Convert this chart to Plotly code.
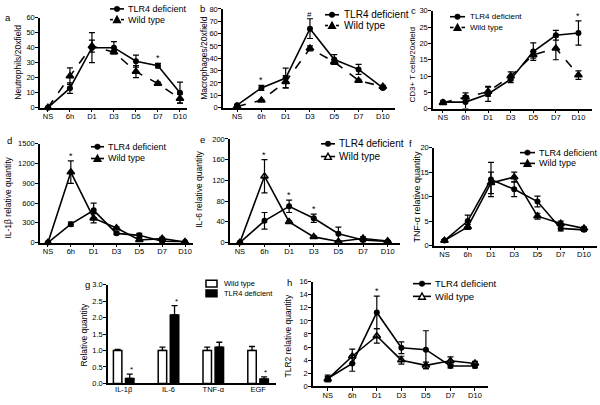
import plotly.graph_objects as go

FONT = "Liberation Sans, Arial, sans-serif"
W, H = 600, 405

# ---------------- data ----------------
time_labels = ["NS", "6h", "D1", "D3", "D5", "D7", "D10"]
time_pos = [0, 1, 2, 3, 4, 5, 6]

# a: Neutrophils/20xfield
a_tlr4 = [0, 13, 40, 40, 31, 28, 10]
a_tlr4_err = [0, 3.5, 10, 4, 4, 1.5, 7]
a_wt = [0, 21, 41, 37, 24, 16, 6]
a_wt_err = [0, 5.5, 4, 1, 4, 1, 3]

# b: Macrophages/20xfield
b_tlr4 = [2, 16, 24, 64, 39, 31, 16]
b_tlr4_err = [0.5, 2, 8, 8, 4, 4, 1]
b_wt = [1, 6, 21, 48, 37, 22, 17]
b_wt_err = [0.5, 0.5, 5, 2, 2, 1, 1]

# c: CD3+ T cells/20xfield
c_tlr4 = [2, 2, 4.5, 9, 17.5, 22.5, 23.2]
c_tlr4_err = [0.3, 2, 2.3, 1, 2.7, 1.5, 3.7]
c_wt = [1.8, 3.5, 5.2, 10, 16.5, 18.5, 10.3]
c_wt_err = [0.3, 1.3, 1.4, 1.3, 1, 3.5, 1.3]

# d: IL-1beta relative quantity
d_tlr4 = [0, 280, 490, 140, 110, 20, 10]
d_tlr4_err = [0, 30, 110, 20, 30, 10, 5]
d_wt = [0, 1070, 370, 220, 40, 60, 10]
d_wt_err = [0, 170, 70, 20, 20, 20, 5]

# e: IL-6 relative quantity
e_tlr4 = [0, 42, 70, 47, 17, 5, 2]
e_tlr4_err = [0, 16, 12, 8, 13, 3, 1]
e_wt = [0, 128, 40, 11, 2, 8, 3]
e_wt_err = [0, 32, 2, 2, 1, 3, 1]

# f: TNF-alpha relative quantity
f_tlr4 = [1, 5, 13.5, 11.5, 9, 3.5, 3.2]
f_tlr4_err = [0.2, 1.2, 3.5, 1.5, 1.1, 0.5, 0.3]
f_wt = [1, 3.8, 12.8, 14, 6, 4.5, 3.5]
f_wt_err = [0.2, 0.5, 2.2, 1, 0.6, 0.5, 0.3]

# g: relative quantity (bars)
g_cats = ["IL-1β", "IL-6", "TNF-α", "EGF"]
g_pos = [0, 1, 2, 3]
g_wt = [1.0, 1.0, 1.0, 1.0]
g_wt_err = [0.03, 0.1, 0.1, 0.12]
g_tlr4 = [0.15, 2.08, 1.1, 0.13]
g_tlr4_err = [0.13, 0.28, 0.15, 0.07]

# h: TLR2 relative quantity
h_tlr4 = [1.2, 3.5, 11.3, 5.9, 5.6, 3.1, 3.1]
h_tlr4_err = [0.5, 1.2, 2.5, 0.9, 2.9, 0.3, 0.3]
h_wt = [1.1, 4.6, 7.7, 4.0, 3.2, 3.9, 3.5]
h_wt_err = [0.4, 1.1, 1.1, 0.6, 0.5, 0.6, 0.3]

# significance marks: (time index, symbol)
sig_marks = {
    "a": [(5, "*")],
    "b": [(1, "*"), (3, "#")],
    "c": [(6, "*")],
    "d": [(1, "*")],
    "e": [(1, "*"), (2, "*"), (3, "*")],
    "h": [(2, "*")],
}
g_sig = [0, 1, 3]

# ---------------- layout geometry (pixels) ----------------
panels = {
    "a": dict(px=(40, 187), py=(14, 106), xr=(-0.36, 6.32), ymax=60, dtick=10,
              ylab="Neutrophils/20xfield", letter=(8, 14), lab=(18, 60, 8.5)),
    "b": dict(px=(223, 395), py=(5, 106), xr=(-0.58, 6.5), ymax=80, dtick=10,
              ylab="Macrophages/20xfield", letter=(202, 5), lab=(204, 56, 8.5)),
    "c": dict(px=(433, 592), py=(7, 107), xr=(-0.44, 6.6), ymax=30, dtick=5,
              ylab="CD3+ T cells/20xfield", letter=(413, 7), lab=(413, 62, 8)),
    "d": dict(px=(40, 193), py=(143, 244), xr=(-0.35, 6.35), ymax=1500, dtick=300,
              ylab="IL-1β relative quantity", letter=(9, 140), lab=(8, 198, 8.5)),
    "e": dict(px=(230, 400), py=(138, 244), xr=(-0.4, 6.5), ymax=200, dtick=40,
              ylab="IL-6 relative quantity", letter=(202, 139), lab=(199, 190, 8.5)),
    "f": dict(px=(434, 597), py=(147, 247), xr=(-0.45, 6.56), ymax=20, dtick=5,
              ylab="TNF-α relative quantity", letter=(410, 143), lab=(417, 197, 9)),
    "g": dict(px=(108, 276), py=(287, 388), xr=(-0.35, 3.4), ymax=3, dtick=0.5,
              ylab="Relative quantity", letter=(87, 287), lab=(84, 338, 8.5)),
    "h": dict(px=(313, 488), py=(284, 391), xr=(-0.6, 6.53), ymax=16, dtick=2,
              ylab="TLR2 relative quantity", letter=(289, 285), lab=(288, 340, 8.5)),
}
order = ["a", "b", "c", "d", "e", "f", "g", "h"]

# manual legends: symbol line x0,x1 ; text x ; row ys ; font size ; style
legend_spec = {
    "a": dict(lx=(110, 124), tx=126, rows=(5, 16), fs=9, wt="tri", wdash="dash"),
    "b": dict(lx=(325, 339), tx=342, rows=(11, 22), fs=10, wt="tri", wdash="dash"),
    "c": dict(lx=(450, 465), tx=468, rows=(13, 24), fs=8, wt="tri", wdash="dash"),
    "d": dict(lx=(91, 104), tx=106, rows=(146, 158), fs=9, wt="tri", wdash="solid"),
    "e": dict(lx=(321, 335), tx=337, rows=(143, 156), fs=10, wt="tri-open", wdash="solid"),
    "f": dict(lx=(520, 535), tx=537, rows=(152, 163), fs=9, wt="tri", wdash="solid"),
    "h": dict(lx=(413, 431), tx=433, rows=(286, 299), fs=9.5, wt="tri-open", wdash="solid"),
}
g_legend = dict(bx=(206, 217), tx=222, rows=(286, 296), fs=7.5)


def PX(x):
    return x / W


def PY(y):
    return 1 - y / H


fig = go.Figure()
layout = dict(width=W, height=H, margin=dict(l=0, r=0, t=0, b=0),
              paper_bgcolor="white", plot_bgcolor="white", showlegend=False,
              font=dict(family=FONT, size=8, color="black"),
              barmode="group", bargap=0.46, bargroupgap=0.3)
annotations = []
shapes = []

for i, k in enumerate(order):
    p = panels[k]
    n = "" if i == 0 else str(i + 1)
    xa = dict(domain=[PX(p["px"][0]), PX(p["px"][1])], range=list(p["xr"]),
              anchor="y" + n, showgrid=False, zeroline=False, showline=True,
              linecolor="black", linewidth=1.5, ticks="outside", ticklen=3,
              tickwidth=1.2, tickcolor="black", tickfont=dict(size=7.5, family=FONT),
              ticklabelstandoff=-2, fixedrange=True)
    if k == "g":
        xa.update(tickvals=g_pos, ticktext=g_cats, ticks="")
    else:
        xa.update(tickvals=time_pos, ticktext=time_labels)
    ya = dict(domain=[PY(p["py"][1]), PY(p["py"][0])], range=[0, p["ymax"]],
              anchor="x" + n, showgrid=False, zeroline=False, showline=True,
              linecolor="black", linewidth=1.5, ticks="outside", ticklen=3,
              tickwidth=1.2, tickcolor="black", dtick=p["dtick"], tick0=0,
              tickfont=dict(size=7.5, family=FONT), ticklabelstandoff=-1, fixedrange=True)
    if k == "g":
        ya.update(tickformat=".1f")
    layout["xaxis" + n] = xa
    layout["yaxis" + n] = ya
    annotations.append(dict(x=PX(p["letter"][0]), y=PY(p["letter"][1]), xref="paper",
                            yref="paper", text=k, showarrow=False, xanchor="center",
                            yanchor="middle", font=dict(size=9.5, family=FONT)))
    lx, lyc, ls = p["lab"]
    annotations.append(dict(x=PX(lx), y=PY(lyc), xref="paper", yref="paper",
                            text=p["ylab"], textangle=-90, showarrow=False,
                            xanchor="center", yanchor="middle",
                            font=dict(size=ls, family=FONT)))

series = {
    "a": (a_tlr4, a_tlr4_err, a_wt, a_wt_err, "triangle-up", "dash"),
    "b": (b_tlr4, b_tlr4_err, b_wt, b_wt_err, "triangle-up", "dash"),
    "c": (c_tlr4, c_tlr4_err, c_wt, c_wt_err, "triangle-up", "dash"),
    "d": (d_tlr4, d_tlr4_err, d_wt, d_wt_err, "triangle-up", "solid"),
    "e": (e_tlr4, e_tlr4_err, e_wt, e_wt_err, "triangle-up-open", "solid"),
    "f": (f_tlr4, f_tlr4_err, f_wt, f_wt_err, "triangle-up", "solid"),
    "h": (h_tlr4, h_tlr4_err, h_wt, h_wt_err, "triangle-up-open", "solid"),
}

for i, k in enumerate(order):
    n = "" if i == 0 else str(i + 1)
    if k == "g":
        fig.add_trace(go.Bar(x=g_pos, y=g_wt, name="Wild type", xaxis="x" + n, yaxis="y" + n,
                             marker=dict(color="white", line=dict(color="black", width=1.5)),
                             error_y=dict(type="data", array=g_wt_err, color="black",
                                          thickness=1.3, width=3, symmetric=False,
                                          arrayminus=[0] * len(g_wt_err))))
        fig.add_trace(go.Bar(x=g_pos, y=g_tlr4, name="TLR4 deficient", xaxis="x" + n, yaxis="y" + n,
                             marker=dict(color="black", line=dict(color="black", width=1.5)),
                             error_y=dict(type="data", array=g_tlr4_err, color="black",
                                          thickness=1.3, width=3, symmetric=False,
                                          arrayminus=[0] * len(g_tlr4_err))))
        continue
    t4, t4e, wt, wte, wsym, wdash = series[k]
    fig.add_trace(go.Scatter(x=time_pos, y=t4, name="TLR4 deficient", mode="lines+markers",
                             xaxis="x" + n, yaxis="y" + n, cliponaxis=False,
                             line=dict(color="black", width=1.6),
                             marker=dict(symbol="circle", size=6, color="black"),
                             error_y=dict(type="data", array=t4e, color="black",
                                          thickness=1.2, width=3)))
    fig.add_trace(go.Scatter(x=time_pos, y=wt, name="Wild type", mode="lines+markers",
                             xaxis="x" + n, yaxis="y" + n, cliponaxis=False,
                             line=dict(color="black", width=1.6, dash=wdash),
                             marker=dict(symbol=wsym, size=6.5, color="black",
                                         line=dict(color="black", width=1.6)),
                             error_y=dict(type="data", array=wte, color="black",
                                          thickness=1.2, width=3)))

# significance marks above the highest error bar of that time point
for i, k in enumerate(order):
    n = "" if i == 0 else str(i + 1)
    if k in sig_marks:
        t4, t4e, wt, wte, _, _ = series[k]
        for idx, sym in sig_marks[k]:
            top = max(t4[idx] + t4e[idx], wt[idx] + wte[idx])
            annotations.append(dict(x=time_pos[idx], y=top, xref="x" + n, yref="y" + n,
                                    text=sym, showarrow=False, xanchor="center",
                                    yanchor="bottom", yshift=-2,
                                    font=dict(size=9 if sym == "*" else 8, family=FONT)))
    if k == "g":
        for idx in g_sig:
            top = g_tlr4[idx] + g_tlr4_err[idx]
            annotations.append(dict(x=g_pos[idx] + 0.17, y=top, xref="x" + n, yref="y" + n,
                                    text="*", showarrow=False, xanchor="center",
                                    yanchor="bottom", yshift=-2,
                                    font=dict(size=8, family=FONT)))


# ---------------- manual legends ----------------
def line_shape(x0, x1, y, dash="solid"):
    return dict(type="line", xref="paper", yref="paper", x0=PX(x0), x1=PX(x1),
                y0=PY(y), y1=PY(y), line=dict(color="black", width=1.6, dash=dash))


def circle_shape(xc, yc, r=2.8):
    return dict(type="circle", xref="paper", yref="paper", x0=PX(xc - r), x1=PX(xc + r),
                y0=PY(yc + r), y1=PY(yc - r), fillcolor="black",
                line=dict(color="black", width=0.5))


def tri_shape(xc, yc, filled=True, s=3.4):
    path = "M{:.5f},{:.5f} L{:.5f},{:.5f} L{:.5f},{:.5f} Z".format(
        PX(xc - s), PY(yc + s * 0.85), PX(xc + s), PY(yc + s * 0.85), PX(xc), PY(yc - s))
    return dict(type="path", xref="paper", yref="paper", path=path,
                fillcolor="black" if filled else "white",
                line=dict(color="black", width=1.4))


for k, sp in legend_spec.items():
    x0, x1 = sp["lx"]
    xc = (x0 + x1) / 2
    y1, y2 = sp["rows"]
    shapes.append(line_shape(x0, x1, y1))
    shapes.append(circle_shape(xc, y1))
    if sp["wdash"] == "dash":
        shapes.append(line_shape(x0, xc - 4, y2))
        shapes.append(line_shape(xc + 4, x1, y2))
    else:
        shapes.append(line_shape(x0, x1, y2))
    shapes.append(tri_shape(xc, y2, filled=(sp["wt"] == "tri")))
    for y, txt in ((y1, "TLR4 deficient"), (y2, "Wild type")):
        annotations.append(dict(x=PX(sp["tx"]), y=PY(y), xref="paper", yref="paper",
                                text=txt, showarrow=False, xanchor="left",
                                yanchor="middle", font=dict(size=sp["fs"], family=FONT)))

bx0, bx1 = g_legend["bx"]
for y, txt, fill in ((g_legend["rows"][0], "Wild type", "white"),
                     (g_legend["rows"][1], "TLR4 deficient", "black")):
    shapes.append(dict(type="rect", xref="paper", yref="paper", x0=PX(bx0), x1=PX(bx1),
                       y0=PY(y + 3.5), y1=PY(y - 3.5), fillcolor=fill,
                       line=dict(color="black", width=1.5)))
    annotations.append(dict(x=PX(g_legend["tx"]), y=PY(y), xref="paper", yref="paper",
                            text=txt, showarrow=False, xanchor="left", yanchor="middle",
                            font=dict(size=g_legend["fs"], family=FONT)))

layout["annotations"] = annotations
layout["shapes"] = shapes
fig.update_layout(**layout)
fig.write_html("out.html", config={"displayModeBar": False},
               post_script="document.body.style.margin='0px';document.body.style.overflow='hidden';")
